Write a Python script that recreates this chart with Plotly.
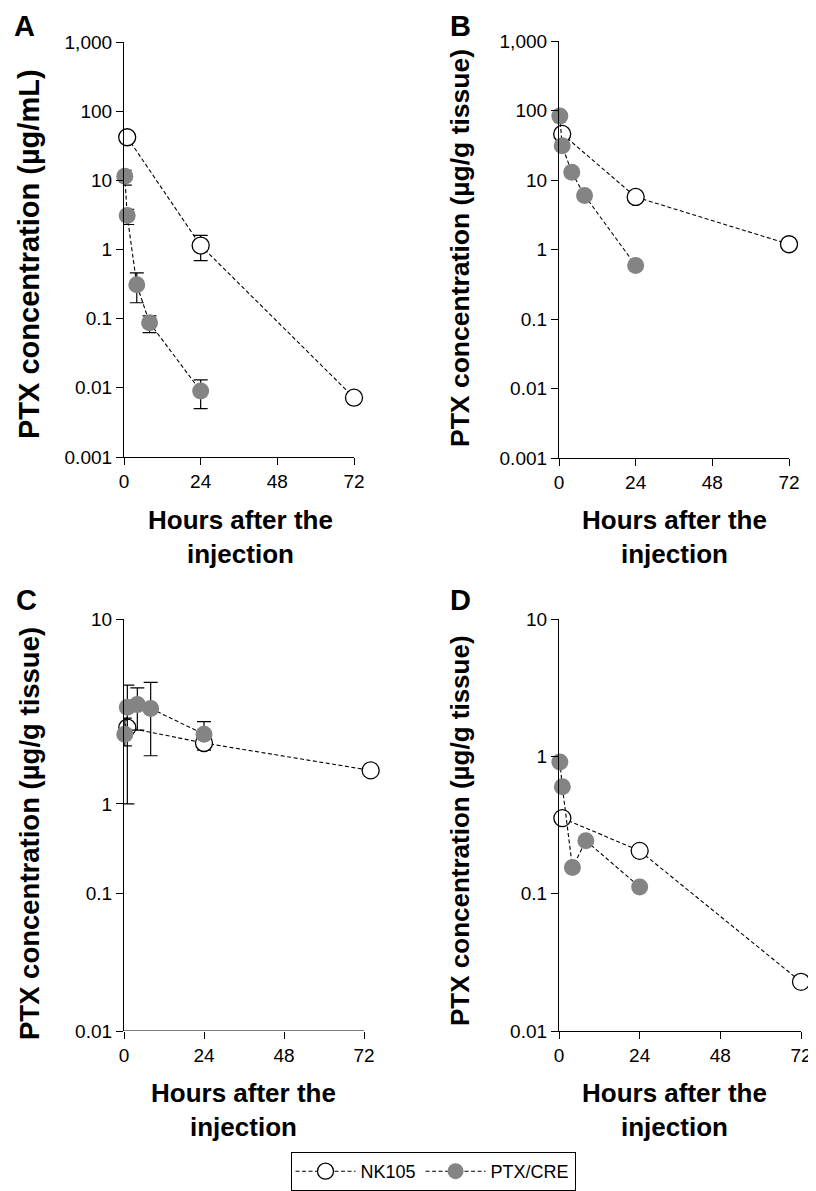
import plotly.graph_objects as go

# ---------------- data ----------------
hours_nk = [1, 24, 72]
hours_nk_C = [1, 24, 74]
hours_ptx = [0.25, 1, 4, 8, 24]
x_ticks = [0, 24, 48, 72]

# Panel A: plasma (µg/mL)
A_nk = [42, 1.14, 0.0072]
A_nk_hi = [42, 1.6, 0.0072]
A_nk_lo = [42, 0.69, 0.0072]
A_ptx = [11.5, 3.1, 0.31, 0.087, 0.009]
A_ptx_hi = [14, 3.8, 0.46, 0.11, 0.013]
A_ptx_lo = [8.5, 2.3, 0.17, 0.063, 0.005]

# Panel B (µg/g tissue)
B_nk = [46, 5.7, 1.19]
B_ptx = [83, 31, 12.9, 6.0, 0.59]

# Panel C (µg/g tissue)
C_nk = [1.62, 1.25, 0.79]
C_nk_hi = [1.62, 1.25, 0.79]
C_nk_lo = [1.62, 1.11, 0.79]
C_ptx = [1.45, 2.28, 2.38, 2.23, 1.45]
C_ptx_hi = [1.9, 3.3, 3.15, 3.45, 1.79]
C_ptx_lo = [1.19, 0.45, 1.55, 1.01, 1.45]

# Panel D (µg/g tissue)
D_nk = [0.355, 0.205, 0.0228]
D_ptx = [0.91, 0.60, 0.155, 0.243, 0.112]

# tick labels
ab_tickvals = [0.001, 0.01, 0.1, 1, 10, 100, 1000]
ab_ticktext = ["0.001", "0.01", "0.1", "1", "10", "100", "1,000"]
c_tickvals = [0.01, 0.1, 0.45, 10]
c_ticktext = ["0.01", "0.1", "1", "10"]
d_tickvals = [0.01, 0.1, 1, 10]
d_ticktext = ["0.01", "0.1", "1", "10"]

# ---------------- figure ----------------
# the page body has an 8 px margin: the figure starts at (8, 8) and fills
# the rest of the window, so every page position is shifted by OFF
OFF = 8
W, H = 808, 1183
FONT = "Liberation Sans, Arial, sans-serif"
GRAY = "#848484"
DASH = "4px,2.5px"


def px(x):
    return (x - OFF) / W


def py(y):
    return 1 - (y - OFF) / H


def xd(a, b):
    return [px(a), px(b)]


def yd(top, bottom):
    return [py(bottom), py(top)]


def err(vals, hi, lo):
    return dict(type="data", symmetric=False,
                array=[h - v for h, v in zip(hi, vals)],
                arrayminus=[v - l for v, l in zip(vals, lo)],
                color="black", thickness=1.2, width=7)


fig = go.Figure()


def add_nk(x, y, xa, ya, e=None, show=False):
    fig.add_trace(go.Scatter(
        x=x, y=y, xaxis=xa, yaxis=ya, mode="lines+markers", name="NK105",
        showlegend=show, legendgroup="nk", cliponaxis=False,
        line=dict(color="black", width=1.1, dash=DASH),
        marker=dict(symbol="circle", size=17, color="white",
                    line=dict(color="black", width=1.3)),
        error_y=e))


def add_ptx(x, y, xa, ya, e=None, show=False):
    fig.add_trace(go.Scatter(
        x=x, y=y, xaxis=xa, yaxis=ya, mode="lines+markers", name="PTX/CRE",
        showlegend=show, legendgroup="ptx", cliponaxis=False,
        line=dict(color="black", width=1.1, dash=DASH),
        marker=dict(symbol="circle", size=17, color=GRAY,
                    line=dict(color=GRAY, width=0)),
        error_y=e))


add_nk(hours_nk, A_nk, "x", "y", err(A_nk, A_nk_hi, A_nk_lo), show=True)
add_ptx(hours_ptx, A_ptx, "x", "y", err(A_ptx, A_ptx_hi, A_ptx_lo), show=True)
add_nk(hours_nk, B_nk, "x2", "y2")
add_ptx(hours_ptx, B_ptx, "x2", "y2")
add_nk(hours_nk_C, C_nk, "x3", "y3", err(C_nk, C_nk_hi, C_nk_lo))
add_ptx(hours_ptx, C_ptx, "x3", "y3", err(C_ptx, C_ptx_hi, C_ptx_lo))
add_nk(hours_nk, D_nk, "x4", "y4")
add_ptx(hours_ptx, D_ptx, "x4", "y4")

axis_common = dict(linecolor="black", linewidth=1.2, automargin=False,
                   ticks="outside", ticklen=7, tickwidth=1.2, tickcolor="black",
                   showgrid=False, zeroline=False,
                   tickfont=dict(family=FONT, size=19, color="black"))


def xcfg(dom, anchor, xmax=72, line=True):
    return dict(domain=dom, anchor=anchor, range=[0, xmax], tickvals=x_ticks,
                showline=line, **axis_common)


def ycfg(dom, anchor, rng, tv, tt):
    return dict(domain=dom, anchor=anchor, type="log", range=rng,
                tickvals=tv, ticktext=tt, showline=True, **axis_common)


# panel C: the last NK105 point sits slightly past the 72 h tick, so the
# x range runs a little further and the axis line is drawn only to 72 h
C_XMAX = 76
C_LEFT, C_PX_PER_H = 124, 240 / 72

fig.update_layout(
    width=W, height=H, margin=dict(l=0, r=0, t=0, b=0, autoexpand=False),
    paper_bgcolor="white", plot_bgcolor="white",
    font=dict(family=FONT, color="black"),
    xaxis=xcfg(xd(124, 354), "y"),
    yaxis=ycfg(yd(42, 457), "x", [-3, 3], ab_tickvals, ab_ticktext),
    xaxis2=xcfg(xd(559, 789), "y2"),
    yaxis2=ycfg(yd(41, 458), "x2", [-3, 3], ab_tickvals, ab_ticktext),
    xaxis3=xcfg(xd(C_LEFT, C_LEFT + C_XMAX * C_PX_PER_H), "y3", xmax=C_XMAX, line=False),
    yaxis3=ycfg(yd(619, 1031), "x3", [-2, 1], c_tickvals, c_ticktext),
    xaxis4=xcfg(xd(559, 801), "y4"),
    yaxis4=ycfg(yd(619, 1031), "x4", [-2, 1], d_tickvals, d_ticktext),
    legend=dict(orientation="h", x=px(433), xanchor="center",
                y=py(1152), yanchor="top",
                bordercolor="black", borderwidth=1, bgcolor="white",
                itemwidth=60, font=dict(family=FONT, size=18, color="black")),
)

fig.add_shape(type="line", xref="x3", yref="y3", x0=0, x1=72, y0=0.01, y1=0.01,
              line=dict(color="black", width=1.2))

annots = [
    dict(x=29, y=254, size=29, text="<b>PTX concentration (µg/mL)</b>", textangle=-90),
    dict(x=460, y=248, size=26.5, text="<b>PTX concentration (µg/g tissue)</b>", textangle=-90),
    dict(x=29, y=834, size=27.5, text="<b>PTX concentration (µg/g tissue)</b>", textangle=-90),
    dict(x=460, y=831, size=26, text="<b>PTX concentration (µg/g tissue)</b>", textangle=-90),
    dict(x=241, y=537, size=26, text="<b>Hours after the<br>injection</b>"),
    dict(x=674, y=537, size=26, text="<b>Hours after the<br>injection</b>"),
    dict(x=244, y=1110, size=26, text="<b>Hours after the<br>injection</b>"),
    dict(x=674, y=1110, size=26, text="<b>Hours after the<br>injection</b>"),
]
for a in annots:
    fig.add_annotation(x=px(a["x"]), y=py(a["y"]), xref="paper", yref="paper",
                       text=a["text"], showarrow=False, textangle=a.get("textangle", 0),
                       xanchor="center", yanchor="middle",
                       font=dict(family=FONT, size=a["size"], color="black"))

# panel letters (anchored by their top so they stay inside the figure)
letter_font = dict(family=FONT, size=29, color="black")
for lbl, (lx, ly_top) in {"A": (24, 8), "B": (460, 8), "C": (26, 582), "D": (460, 582)}.items():
    fig.add_annotation(x=px(lx), y=py(ly_top), xref="paper", yref="paper",
                       text=f"<b>{lbl}</b>", showarrow=False,
                       xanchor="center", yanchor="top", font=letter_font)

fig.write_html("out.html")
